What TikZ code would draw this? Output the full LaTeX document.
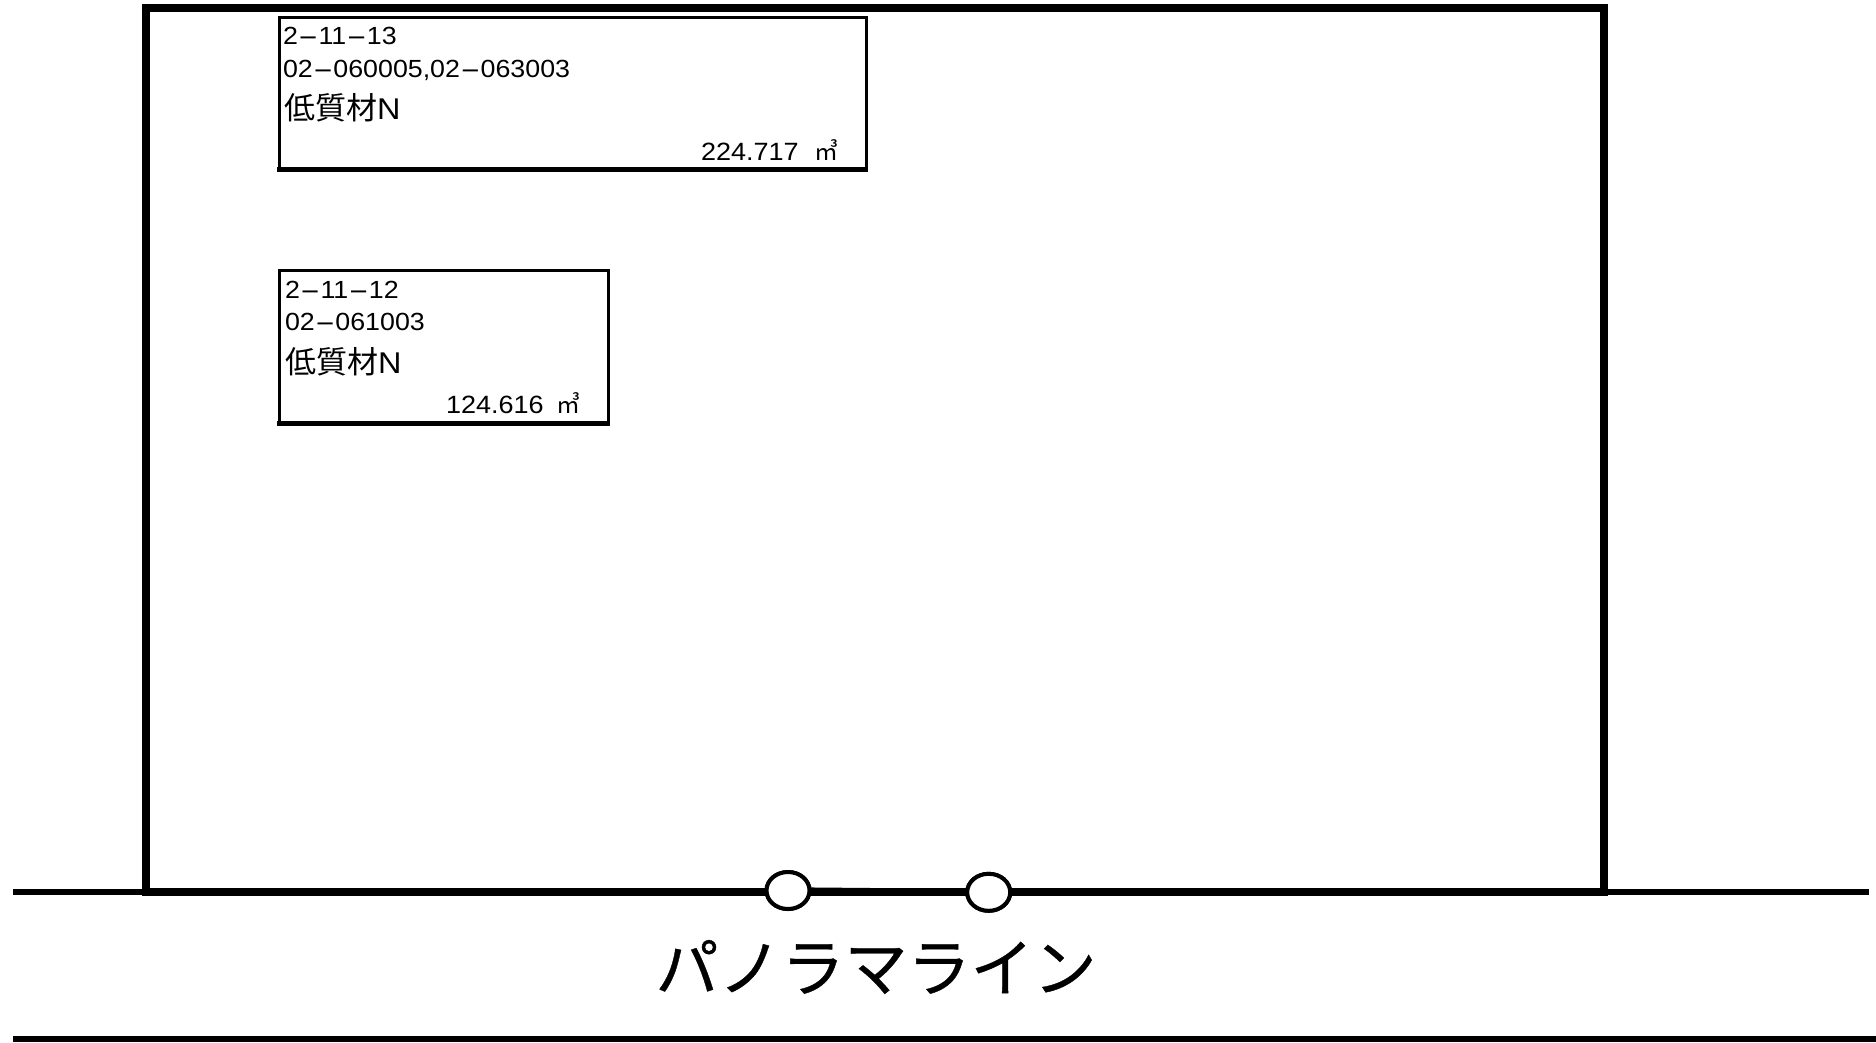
\documentclass[tikz,border=0pt]{standalone}
\usepackage{fontspec}
\usetikzlibrary{shapes.geometric}
\setmainfont[FakeStretch=1.08]{Liberation Sans}
\newfontfamily\cjk{Noto Sans CJK JP}
\newfontfamily\cjkheavy[FakeBold=0.6]{Noto Sans CJK JP}
\newfontfamily\hyfont[FakeStretch=2.5]{Liberation Sans}
\XeTeXinterchartokenstate=1
\newXeTeXintercharclass\hyclass
\XeTeXcharclass`\-=\hyclass
\XeTeXinterchartoks 0 \hyclass={\begingroup\hyfont}
\XeTeXinterchartoks \hyclass 0={\endgroup}
\tikzset{
  plot/.style={draw=black,line width=8pt,fill=none,inner sep=0pt,outer sep=0pt,rectangle,anchor=north west},
  lotbox/.style={draw=black,line width=3pt,fill=white,inner sep=0pt,outer sep=0pt,rectangle,anchor=north west},
  lotbase/.style={draw=black,line width=4.5pt,line cap=rect},
  road/.style={draw=black,line width=6.5pt},
  gate/.style={ellipse,draw=black,line width=4pt,fill=white,inner sep=0pt,outer sep=0pt,minimum width=43pt,minimum height=37pt},
  lab/.style={anchor=base west,inner sep=0pt,outer sep=0pt,font=\fontsize{24.8pt}{27pt}\selectfont},
  kind/.style={anchor=base west,inner sep=0pt,outer sep=0pt,font=\fontsize{30pt}{32pt}\selectfont},
  vol/.style={anchor=base west,inner sep=0pt,outer sep=0pt,font=\fontsize{25pt}{27pt}\selectfont},
  unit/.style={anchor=base west,inner sep=0pt,outer sep=0pt,font=\cjk\fontsize{24pt}{26pt}\selectfont},
  title/.style={anchor=center,inner sep=0pt,outer sep=0pt,font=\cjkheavy\fontsize{63pt}{66pt}\selectfont}
}
\begin{document}
\begin{tikzpicture}[x=1pt,y=-1pt]
\useasboundingbox (0,0) rectangle (1876,1042);
\fill[white] (0,0) rectangle (1876,1042);
\coordinate (roadL) at (13,892);
\coordinate (roadR) at (1869,892);
\coordinate (lowL) at (13,1039);
\coordinate (lowR) at (1876,1039);
\node[plot,minimum width=1458pt,minimum height=884pt] (frame) at (146,8) {};
\node[gate] (g1) at (788,890.5) {};
\node[gate] (g2) at (988.7,892.3) {};
\draw[road] (roadL) -- (roadL -| g1.west);
\draw[road] (g1) -- (g2);
\draw[road] (roadR -| g2.east) -- (roadR);
\draw[road] (lowL) -- (lowR);
\node[gate] at (g1) {};
\node[gate] at (g2) {};
\node[lotbox,minimum width=587pt,minimum height=152pt] (boxa) at (279,17.5) {};
\draw[lotbase] (boxa.south west) -- (boxa.south east);
\node[lab] (a1) at (283,44) {2-11-13};
\node[lab] (a2) at (283,77) {02-060005,02-063003};
\node[kind] (a3) at (284,119) {{\cjk\fontsize{31pt}{33pt}\selectfont 低質材}N};
\node[vol] (a4) at (701,160) {224.717};
\node[unit] (a5) at (814,160) {㎥};
\node[lotbox,minimum width=329pt,minimum height=153pt] (boxb) at (279,270.5) {};
\draw[lotbase] (boxb.south west) -- (boxb.south east);
\node[lab] (b1) at (285,298) {2-11-12};
\node[lab] (b2) at (285,330) {02-061003};
\node[kind] (b3) at (285,373) {{\cjk\fontsize{31pt}{33pt}\selectfont 低質材}N};
\node[vol] (b4) at (446,413) {124.616};
\node[unit] (b5) at (556,413) {㎥};
\node[title] (t) at (876,967) {パノラマライン};
\end{tikzpicture}
\end{document}
